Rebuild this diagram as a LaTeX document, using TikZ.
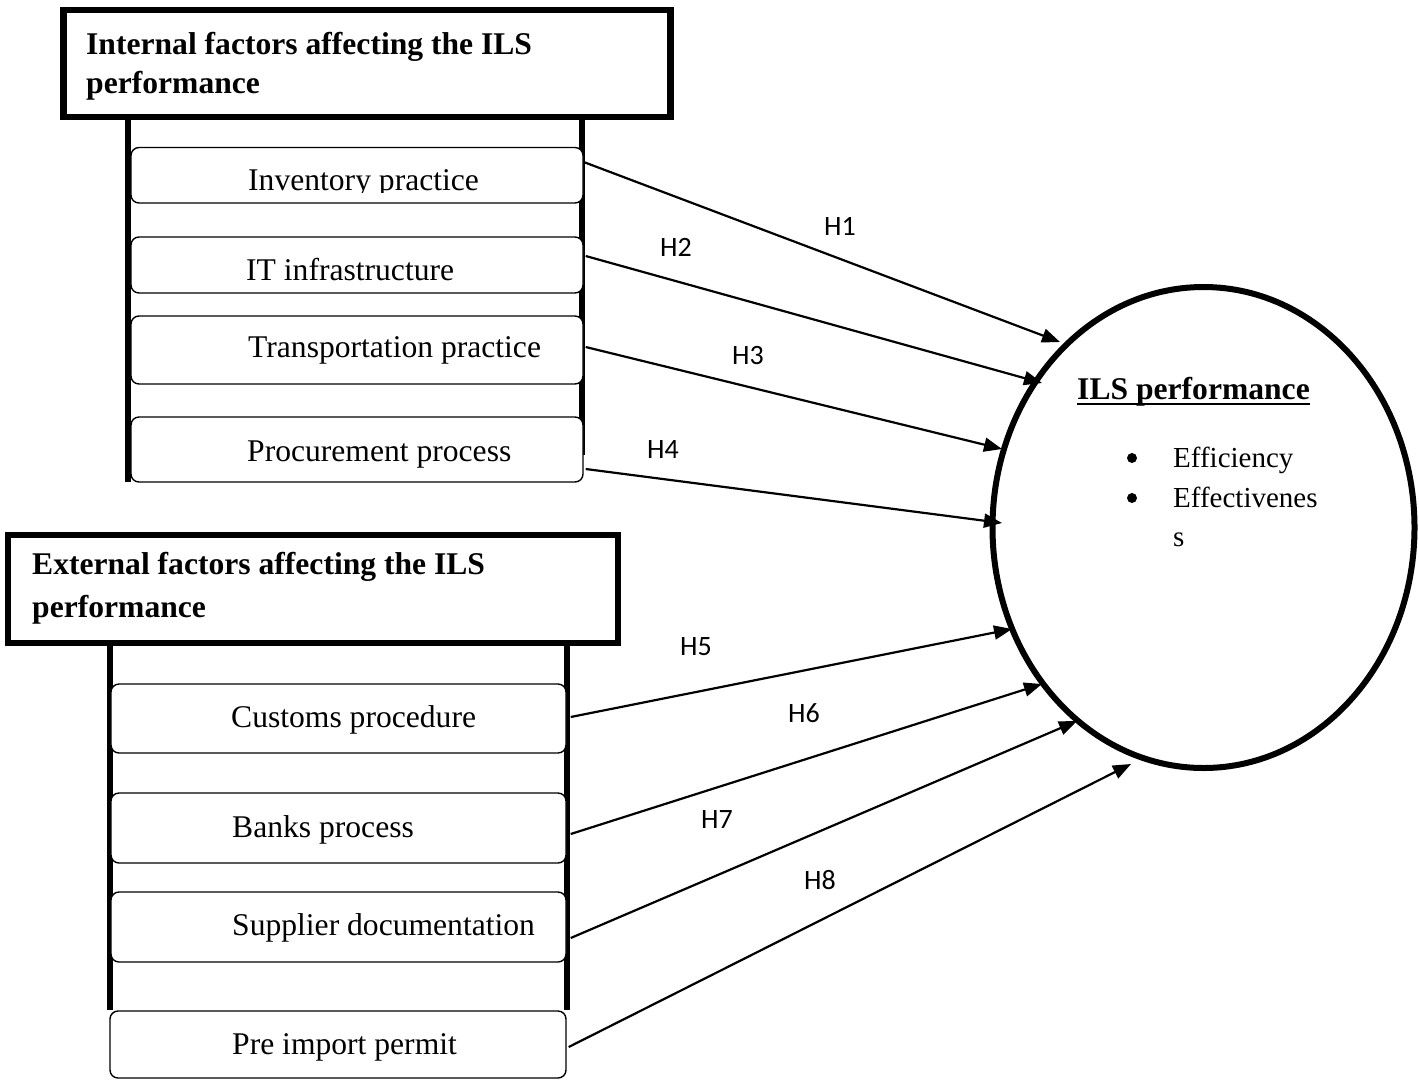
\documentclass[tikz,border=0pt]{standalone}
\usepackage{fontspec}
\setmainfont{Liberation Serif}
\newfontfamily\labelfont{Carlito}
\usetikzlibrary{arrows.meta,shapes.geometric}
\begin{document}
\begin{tikzpicture}[x=1pt,y=-1pt,
  headbox/.style={draw, line width=6.5pt, inner sep=0},
  itembox/.style={draw, line width=1.4pt, rounded corners=8pt, fill=white, inner sep=0},
  itemtext/.style={anchor=base west, inner sep=0, font=\fontsize{31.6}{38}\selectfont},
  headtext/.style={anchor=base west, inner sep=0, font=\fontsize{31.6}{38}\selectfont\bfseries},
  bullettext/.style={anchor=base west, inner sep=0, font=\fontsize{29}{35}\selectfont},
  rail/.style={line width=6pt},
  hyp/.style={line width=2.2pt, -{Triangle[length=18pt,width=14pt]}},
  hlabel/.style={inner sep=0, font=\labelfont\fontsize{28}{32}\selectfont},
  blt/.style={circle, fill=black, inner sep=0, minimum size=10pt}
]
\useasboundingbox (0,0) rectangle (1419,1080);

% rails
\draw[rail] (128,117) -- (128,482);
\draw[rail] (582,117) -- (582,455);
\draw[rail] (110,643) -- (110,1010);
\draw[rail] (567,643) -- (567,1010);

% headings
\node[headbox, minimum width=607pt, minimum height=107pt] (inthead) at (367,63.5) {};
\node[headtext] (intheadA) at (86,54) {Internal factors affecting the ILS};
\node[headtext] (intheadB) at (86,93) {performance};

\node[headbox, minimum width=610pt, minimum height=108pt] (exthead) at (313,589) {};
\node[headtext] (extheadA) at (32,574) {External factors affecting the ILS};
\node[headtext] (extheadB) at (32,617) {performance};

% internal boxes
\node[itembox, minimum width=452pt, minimum height=55.5pt] (inv) at (357,175.25) {};
\begin{scope}
  \clip (131,147) rectangle (583,192.5);
  \node[itemtext] (tinv) at (248,190) {Inventory practice};
\end{scope}
\node[itembox, minimum width=452pt, minimum height=56pt] (it) at (357,265) {};
\node[itemtext] (tit) at (246,280) {IT infrastructure};
\node[itembox, minimum width=452pt, minimum height=68pt] (tra) at (357,350) {};
\node[itemtext] (ttra) at (248,357) {Transportation practice};
\node[itembox, minimum width=452pt, minimum height=65pt] (pro) at (357,449.5) {};
\node[itemtext] (tpro) at (247,461) {Procurement process};

% external boxes
\node[itembox, minimum width=455pt, minimum height=69pt] (cus) at (338.5,718.5) {};
\node[itemtext] (tcus) at (231,727) {Customs procedure};
\node[itembox, minimum width=455pt, minimum height=70pt] (ban) at (338.5,828) {};
\node[itemtext] (tban) at (232,837) {Banks process};
\node[itembox, minimum width=455pt, minimum height=70pt] (sup) at (338.5,927) {};
\node[itemtext] (tsup) at (232,935) {Supplier documentation};
\node[itembox, minimum width=456pt, minimum height=67pt] (pre) at (338,1044.5) {};
\node[itemtext] (tpre) at (232,1054) {Pre import permit};

% ILS performance ellipse
\node[draw, ellipse, line width=6pt, minimum width=422pt, minimum height=481pt, inner sep=0] (ils) at (1203.5,527.5) {};
\node[headtext] (ilstitle) at (1077,399) {ILS performance};
\draw[line width=2.4pt] ([yshift=-5pt]ilstitle.base west) -- ([yshift=-5pt]ilstitle.base east);
\node[blt] (b1) at (1132,458) {};
\node[bullettext] (e1) at (1173,467) {Efficiency};
\node[blt] (b2) at (1132,498) {};
\node[bullettext] (e2) at (1173,507) {Effectivenes};
\node[bullettext] (e3) at (1173,546.5) {s};

% arrow tips
\coordinate (t1) at (1060,342);
\coordinate (t2) at (1042,383);
\coordinate (t3) at (1002,449);
\coordinate (t4) at (1002,523);
\coordinate (t5) at (1012,629);
\coordinate (t6) at (1042,684);
\coordinate (t7) at (1077,721);
\coordinate (t8) at (1131,764);

% hypotheses
\draw[hyp] ([yshift=13.25pt]inv.east) -- (t1);
\draw[hyp] ([xshift=2pt,yshift=9pt]it.east) -- (t2);
\draw[hyp] ([xshift=2pt,yshift=3pt]tra.east) -- (t3);
\draw[hyp] ([xshift=2pt,yshift=-19.5pt]pro.east) -- (t4);
\draw[hyp] ([xshift=4pt,yshift=1.5pt]cus.east) -- (t5);
\draw[hyp] ([xshift=4pt,yshift=-6pt]ban.east) -- (t6);
\draw[hyp] ([xshift=4pt,yshift=-11pt]sup.east) -- (t7);
\draw[hyp] ([xshift=2pt,yshift=-2.5pt]pre.east) -- (t8);

\node[hlabel] (h1) at (840,226) {H1};
\node[hlabel] (h2) at (676,247) {H2};
\node[hlabel] (h3) at (748,356) {H3};
\node[hlabel] (h4) at (663,450) {H4};
\node[hlabel] (h5) at (696,647) {H5};
\node[hlabel] (h6) at (804,713) {H6};
\node[hlabel] (h7) at (717,820) {H7};
\node[hlabel] (h8) at (820,880) {H8};
\end{tikzpicture}
\end{document}
